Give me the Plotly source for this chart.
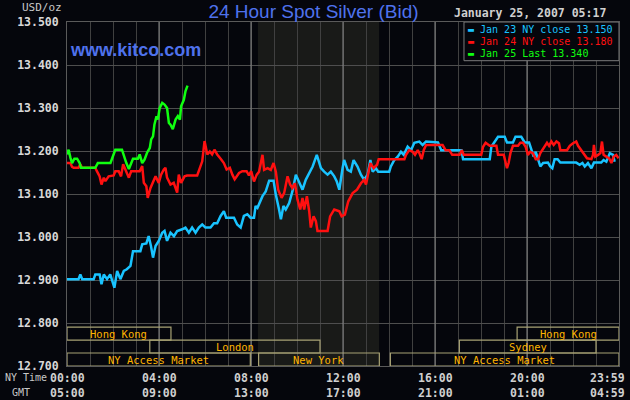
import plotly.graph_objects as go

# hours after 00:00 NY time, price in USD/oz
jan23_h = [0, 0.5, 0.58, 0.66, 1.16, 1.23, 1.42, 1.5, 1.6, 1.74, 1.88, 1.95, 2.06, 2.18, 2.32, 2.47,
           2.6, 2.76, 2.87, 3.19, 3.27, 3.45, 3.55, 3.65, 3.74, 3.85, 3.99, 4.14, 4.24, 4.35, 4.5,
           4.65, 4.79, 5.01, 5.15, 5.3, 5.44, 5.59, 5.73, 5.88, 6.02, 6.24, 6.39, 6.53, 6.68, 6.82,
           6.92, 7.26, 7.4, 7.55, 7.69, 7.84, 7.98, 8.13, 8.2, 8.28, 8.5, 8.64, 8.79, 8.98, 9.08,
           9.22, 9.3, 9.41, 9.51, 9.66, 9.8, 9.95, 10.09, 10.24, 10.38, 10.53, 10.68, 10.86, 11.04,
           11.18, 11.33, 11.47, 11.62, 11.73, 11.84, 11.98, 12.05, 12.2, 12.34, 12.46, 12.63, 12.78,
           12.92, 13.07, 13.19, 13.29, 13.43, 13.53, 14.01, 14.08, 14.23, 14.38, 14.52, 14.64, 14.81,
           14.96, 15.1, 15.32, 15.46, 15.61, 16.13, 16.27, 17.15, 17.22, 18.38, 18.45, 18.59, 18.74,
           19.03, 19.13, 19.39, 19.5, 19.75, 19.9, 20.09, 20.19, 20.29, 20.38, 20.48, 20.58, 20.7,
           20.91, 21.01, 21.1, 21.2, 21.33, 21.45, 22.14, 22.29, 22.41, 22.51, 22.65, 22.8, 22.91,
           23.23, 23.33, 23.45, 23.6, 23.74, 23.81]
jan23_p = [12.902, 12.902, 12.913, 12.902, 12.902, 12.913, 12.913, 12.890, 12.913, 12.902, 12.913,
           12.902, 12.882, 12.921, 12.902, 12.921, 12.925, 12.933, 12.967, 12.967, 12.983, 12.985,
           13.002, 12.979, 12.952, 12.979, 12.991, 13.010, 13.014, 12.991, 13.010, 13.002, 13.014,
           13.018, 13.022, 13.010, 13.022, 13.010, 13.022, 13.029, 13.022, 13.022, 13.032, 13.032,
           13.049, 13.060, 13.045, 13.045, 13.029, 13.022, 13.049, 13.053, 13.045, 13.045, 13.072,
           13.068, 13.095, 13.106, 13.131, 13.131, 13.098, 13.064, 13.041, 13.072, 13.064, 13.079,
           13.106, 13.145, 13.129, 13.110, 13.133, 13.148, 13.164, 13.191, 13.160, 13.152, 13.145,
           13.152, 13.141, 13.129, 13.110, 13.160, 13.179, 13.156, 13.152, 13.179, 13.164, 13.145,
           13.133, 13.145, 13.179, 13.152, 13.160, 13.152, 13.152, 13.164, 13.179, 13.187, 13.198,
           13.191, 13.210, 13.202, 13.219, 13.222, 13.214, 13.222, 13.220, 13.202, 13.202, 13.181,
           13.181, 13.210, 13.222, 13.233, 13.233, 13.220, 13.220, 13.233, 13.233, 13.220, 13.220,
           13.202, 13.187, 13.198, 13.179, 13.164, 13.172, 13.173, 13.164, 13.160, 13.181, 13.181,
           13.173, 13.173, 13.168, 13.172, 13.164, 13.172, 13.160, 13.173, 13.173, 13.179, 13.175,
           13.195, 13.191, 13.175]

jan24_h = [0, 0.15, 0.22, 0.29, 0.5, 0.58, 0.65, 1.23, 1.3, 1.42, 1.5, 1.6, 1.67, 1.81, 2.03, 2.1,
           2.25, 2.35, 2.44, 2.54, 2.69, 2.79, 3.16, 3.27, 3.34, 3.45, 3.51, 3.63, 3.74, 3.85, 3.99,
           4.09, 4.21, 4.28, 4.35, 4.5, 4.64, 4.79, 4.86, 4.96, 5.11, 5.22, 5.66, 5.73, 5.88, 5.98,
           6.1, 6.21, 6.31, 6.41, 6.53, 6.68, 6.82, 6.94, 7.08, 7.19, 7.29, 7.48, 7.62, 7.81, 7.91,
           8.01, 8.13, 8.25, 8.35, 8.5, 8.57, 8.72, 8.86, 8.98, 9.08, 9.18, 9.33, 9.44, 9.59, 9.7,
           9.8, 9.91, 10.02, 10.14, 10.24, 10.31, 10.43, 10.53, 10.6, 10.72, 10.82, 10.89, 11.33,
           11.44, 11.62, 11.84, 11.94, 12.08, 12.23, 12.42, 12.61, 12.78, 12.92, 13.0, 13.1, 13.19,
           13.33, 13.48, 13.55, 14.67, 14.74, 14.88, 15.03, 15.13, 15.25, 15.32, 15.42, 15.51, 15.61,
           16.33, 16.46, 16.62, 16.75, 17.07, 17.17, 17.25, 18.01, 18.09, 18.2, 18.38, 18.67, 18.74,
           18.99, 19.07, 19.13, 19.2, 19.28, 19.39, 19.61, 19.71, 19.83, 19.94, 20.04, 20.14, 20.26,
           20.38, 20.48, 20.58, 20.7, 20.87, 20.96, 21.06, 21.16, 21.28, 21.39, 21.45, 21.74, 21.86,
           22.0, 22.14, 22.22, 22.36, 22.51, 22.61, 22.8, 22.87, 22.91, 22.97, 23.09, 23.19, 23.26,
           23.33, 23.45, 23.57, 23.67, 23.77, 23.88, 23.98]
jan24_p = [13.172, 13.172, 13.163, 13.161, 13.161, 13.169, 13.161, 13.161, 13.153, 13.141, 13.122,
           13.138, 13.130, 13.141, 13.143, 13.153, 13.153, 13.141, 13.169, 13.157, 13.138, 13.153,
           13.153, 13.165, 13.126, 13.118, 13.091, 13.114, 13.130, 13.141, 13.126, 13.145, 13.157,
           13.161, 13.138, 13.122, 13.126, 13.103, 13.145, 13.126, 13.141, 13.143, 13.143, 13.153,
           13.176, 13.223, 13.192, 13.199, 13.192, 13.203, 13.192, 13.182, 13.172, 13.157, 13.161,
           13.145, 13.134, 13.149, 13.153, 13.153, 13.143, 13.153, 13.129, 13.145, 13.152, 13.191,
           13.156, 13.160, 13.156, 13.172, 13.152, 13.110, 13.091, 13.102, 13.141, 13.122, 13.114,
           13.125, 13.087, 13.064, 13.091, 13.064, 13.095, 13.060, 13.022, 13.048, 13.037, 13.014,
           13.014, 13.048, 13.064, 13.060, 13.048, 13.052, 13.083, 13.102, 13.110, 13.125, 13.133,
           13.122, 13.145, 13.172, 13.160, 13.168, 13.181, 13.181, 13.191, 13.202, 13.198, 13.191,
           13.202, 13.195, 13.181, 13.202, 13.214, 13.214, 13.202, 13.202, 13.191, 13.191, 13.202,
           13.191, 13.191, 13.210, 13.219, 13.212, 13.212, 13.191, 13.191, 13.172, 13.160, 13.172,
           13.195, 13.212, 13.212, 13.219, 13.219, 13.210, 13.191, 13.198, 13.195, 13.181, 13.181,
           13.195, 13.206, 13.219, 13.212, 13.222, 13.214, 13.222, 13.218, 13.202, 13.202, 13.212,
           13.218, 13.222, 13.212, 13.202, 13.191, 13.183, 13.181, 13.191, 13.214, 13.187, 13.191,
           13.195, 13.222, 13.191, 13.187, 13.183, 13.172, 13.187, 13.191, 13.183]

jan25_h = [0, 0.07, 0.15, 0.22, 0.32, 0.44, 0.55, 0.61, 1.23, 1.34, 1.89, 2.0, 2.1, 2.39, 2.47, 2.58,
           2.69, 2.79, 2.87, 3.08, 3.16, 3.27, 3.37, 3.48, 3.6, 3.66, 3.74, 3.8, 3.89, 3.95, 4.03,
           4.14, 4.24, 4.35, 4.43, 4.5, 4.6, 4.72, 4.82, 4.91, 4.96, 5.08, 5.15, 5.24]
jan25_p = [13.192, 13.203, 13.184, 13.172, 13.182, 13.182, 13.172, 13.161, 13.161, 13.172, 13.172,
           13.188, 13.203, 13.203, 13.188, 13.172, 13.158, 13.172, 13.182, 13.182, 13.192, 13.172,
           13.180, 13.196, 13.207, 13.227, 13.234, 13.261, 13.281, 13.273, 13.300, 13.312, 13.308,
           13.300, 13.265, 13.261, 13.251, 13.273, 13.281, 13.273, 13.304, 13.319, 13.339, 13.352]

series_names = ["Jan 23 NY close 13.150", "Jan 24 NY close 13.180", "Jan 25 Last 13.340"]
series_colors = ["#19c3ff", "#ff1010", "#10ff10"]

# trading sessions: name, start hour, end hour, row (0 = top)
session_names = ["Hong Kong", "Hong Kong", "London", "Sydney", "NY Access Market", "New York", "NY Access Market"]
session_start = [0, 19.57, 3.6, 17.06, 0, 8.33, 14.06]
session_end = [4.52, 24, 11.0, 23.0, 7.97, 13.58, 24]
session_row = [0, 0, 1, 1, 2, 2, 2]

ny_ticks = ["00:00", "04:00", "08:00", "12:00", "16:00", "20:00", "23:59"]
gmt_ticks = ["05:00", "09:00", "13:00", "17:00", "21:00", "01:00", "04:59"]
tick_hours = [0, 4, 8, 12, 16, 20, 23.51]

bg = "#05060c"
mono = "DejaVu Sans Mono"

fig = go.Figure()
for h, p, n, c in zip([jan23_h, jan24_h, jan25_h], [jan23_p, jan24_p, jan25_p], series_names, series_colors):
    fig.add_trace(go.Scatter(x=h, y=p, mode="lines", name=n, line=dict(color=c, width=2.5), showlegend=False))

# New York session shading
fig.add_shape(type="rect", x0=8.3, x1=13.57, y0=12.7, y1=13.5, layer="below",
              fillcolor="#191a18", line_width=0)
# brighter gridline every 4 hours
for hr in range(4, 24, 4):
    fig.add_shape(type="line", x0=hr, x1=hr, y0=12.7, y1=13.5, layer="between",
                  line=dict(color="#8a8a8a", width=1))

row_h = 0.0302
for name, s, e, r in zip(session_names, session_start, session_end, session_row):
    top = 12.7 + row_h * (3 - r)
    fig.add_shape(type="rect", x0=s, x1=e, y0=top - row_h, y1=top, layer="between",
                  line=dict(color="#a8a274", width=1.2), fillcolor="rgba(0,0,0,0)")
    fig.add_annotation(x=(s + e) / 2, y=top - row_h / 2, text=name, showarrow=False,
                       font=dict(family=mono, size=10.5, color="#ffb400"))

tick_font = dict(family=mono, size=11.5, color="#d0d0d0", weight="bold")
for hr, a, b in zip(tick_hours, ny_ticks, gmt_ticks):
    fig.add_annotation(x=hr, y=-0.034, yref="paper", yanchor="middle", text=a, showarrow=False, font=tick_font)
    fig.add_annotation(x=hr, y=-0.078, yref="paper", yanchor="middle", text=b, showarrow=False, font=tick_font)
fig.add_annotation(x=-0.116, y=-0.034, xref="paper", yref="paper", xanchor="left", yanchor="middle",
                   text="NY Time", showarrow=False, font=dict(family=mono, size=10, color="#c8c8c8"))
fig.add_annotation(x=-0.083, y=-0.078, xref="paper", yref="paper", xanchor="center", yanchor="middle",
                   text="GMT", showarrow=False, font=dict(family=mono, size=10, color="#c8c8c8"))

# legend box
fig.add_shape(type="rect", x0=17.26, x1=24, y0=13.41, y1=13.5, layer="above",
              fillcolor=bg, line=dict(color="#7c7c7c", width=1))
for i, (n, c) in enumerate(zip(series_names, series_colors)):
    fig.add_annotation(x=17.33, y=13.483 - i * 0.0285, xanchor="left", text="▬ " + n, showarrow=False,
                       font=dict(family=mono, size=10, color=c))

fig.add_annotation(x=-0.085, y=1.042, xref="paper", yref="paper", xanchor="left", yanchor="middle",
                   text="USD/oz", showarrow=False, font=dict(family=mono, size=11, color="#c8c8c8"))
fig.add_annotation(x=0.98, y=1.025, xref="paper", yref="paper", xanchor="right", yanchor="middle",
                   text="January 25, 2007 05:17", showarrow=False, font=tick_font)
fig.add_annotation(x=0.002, y=0.92, xref="paper", yref="paper", xanchor="left", yanchor="middle",
                   text="<b>www.kitco.com</b>", showarrow=False,
                   font=dict(family="Liberation Sans", size=18, color="#4f72ec"))

fig.update_layout(
    width=630, height=400,
    margin=dict(l=67, r=11, t=22, b=34, autoexpand=False),
    paper_bgcolor=bg, plot_bgcolor=bg,
    title=dict(text="24 Hour Spot Silver (Bid)", x=0.4976, xref="container", xanchor="center",
               y=0.972, yref="container", yanchor="middle",
               font=dict(family="Liberation Sans", size=19, color="#4f72ec")),
    xaxis=dict(range=[0, 24], dtick=1, tick0=0, showticklabels=False, showgrid=True,
               gridcolor="#404040", gridwidth=1, zeroline=False, automargin=False,
               showline=True, mirror=True, linecolor="#5a5a5a"),
    yaxis=dict(range=[12.7, 13.5], dtick=0.1, tickformat=".3f", showgrid=True, automargin=False,
               gridcolor="#4e4e4e", zeroline=False, showline=True, mirror=True, linecolor="#5a5a5a",
               ticks="", ticklabelstandoff=5,
               tickfont=dict(family=mono, size=11.5, color="#d8d8d8", weight="bold")),
)

# page body has a default 8px margin; remove it so the figure fills the window
fig.write_html("out.html", config={"displayModeBar": False},
               post_script="document.body.style.margin='0';document.body.style.background='#05060c';")
